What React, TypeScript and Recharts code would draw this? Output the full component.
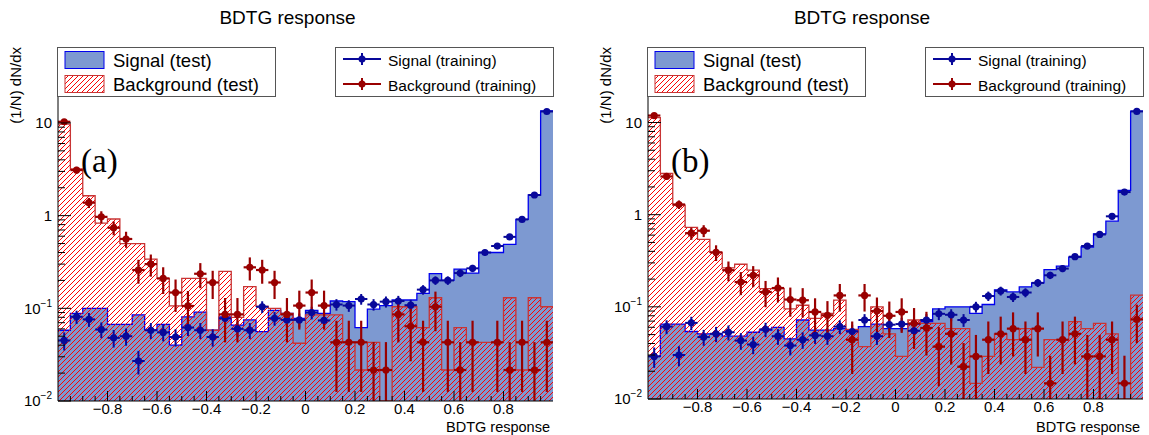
import React from "react";
import { Area, ComposedChart, ErrorBar, Label, Scatter, XAxis, YAxis } from "recharts";

const NBINS = 40;
const X_MIN = -1;
const X_MAX = 1;
const BIN_W = (X_MAX - X_MIN) / NBINS;
const Y_MIN = 0.01;
const Y_MAX = 66;

const xTickLabels = [-0.8, -0.6, -0.4, -0.2, 0, 0.2, 0.4, 0.6, 0.8];
const yTickLabels = [0.01, 0.1, 1, 10];

// (a) test histograms and training points, one value per bin from -1 to 1
const sigTestA = [
  0.058, 0.088, 0.1, 0.1, 0.067, 0.067, 0.085, 0.058, 0.067, 0.04,
  0.081, 0.091, 0.058, 0.081, 0.066, 0.075, 0.056, 0.095, 0.088, 0.078,
  0.095, 0.088, 0.12, 0.118, 0.062, 0.098, 0.107, 0.123, 0.123, 0.145,
  0.237, 0.2, 0.265, 0.24, 0.4, 0.4, 0.49, 0.91, 1.67, 13.5,
];
const bkgTestA = [
  9.7, 3.2, 1.64, 0.83, 0.92, 0.5, 0.5, 0.34, 0.21, 0.106,
  0.21, 0.21, 0.058, 0.25, 0.08, 0.171, 0.105, 0.1, 0.088, 0.042,
  0.085, 0.085, 0.085, 0.043, 0.0216, 0.043, 0, 0.104, 0.104, 0.062,
  0.13, 0.0216, 0.062, 0.043, 0.043, 0.043, 0.13, 0.0216, 0.13, 0.104,
];
const sigTrainA = [
  0.045, 0.081, 0.076, 0.059, 0.048, 0.05, 0.027, 0.058, 0.055, 0.049,
  0.062, 0.058, 0.049, 0.078, 0.06, 0.058, 0.104, 0.078, 0.075, 0.075,
  0.09, 0.074, 0.11, 0.107, 0.126, 0.11, 0.118, 0.12, 0.108, 0.159,
  0.2, 0.2, 0.24, 0.27, 0.4, 0.47, 0.59, 0.91, 1.67, 13.3,
];
const bkgTrainA = [
  10.3, 3.1, 1.38, 0.97, 0.74, 0.56, 0.259, 0.3, 0.21, 0.148,
  0.106, 0.236, 0.19, 0.086, 0.086, 0.277, 0.259, 0.19, 0.086, 0.107,
  0.148, 0.107, 0.043, 0.043, 0.043, 0.0216, 0.0216, 0.086, 0.064, 0.043,
  0.104, 0.043, 0.0216, 0.043, 0, 0.043, 0.0216, 0.043, 0.0216, 0.043,
];

// (b)
const sigTestB = [
  0.029, 0.065, 0.065, 0.054, 0.051, 0.051, 0.048, 0.048, 0.053, 0.056,
  0.06, 0.045, 0.072, 0.056, 0.056, 0.058, 0.056, 0.061, 0.065, 0.058,
  0.058, 0.065, 0.069, 0.095, 0.1, 0.1, 0.085, 0.106, 0.153, 0.145,
  0.165, 0.182, 0.254, 0.276, 0.347, 0.446, 0.62, 0.85, 1.84, 13.3,
];
const bkgTestB = [
  11.3, 2.8, 1.27, 0.73, 0.54, 0.39, 0.265, 0.29, 0.25, 0.158,
  0.158, 0.095, 0.104, 0.075, 0.085, 0.118, 0.057, 0.037, 0.1, 0.051,
  0.029, 0.072, 0.066, 0.066, 0.058, 0.058, 0.0148, 0.029, 0.051, 0.044,
  0.058, 0.022, 0.044, 0.044, 0.069, 0.058, 0.066, 0.051, 0, 0.134,
];
const sigTrainB = [
  0.029, 0.061, 0.03, 0.067, 0.047, 0.051, 0.053, 0.043, 0.039, 0.057,
  0.048, 0.038, 0.044, 0.049, 0.048, 0.061, 0.054, 0.072, 0.048, 0.064,
  0.065, 0.055, 0.072, 0.084, 0.082, 0.072, 0.1, 0.131, 0.149, 0.128,
  0.143, 0.182, 0.22, 0.26, 0.35, 0.457, 0.61, 0.96, 1.76, 13.2,
];
const bkgTrainB = [
  11.9, 2.6, 1.29, 0.63, 0.67, 0.39, 0.25, 0.186, 0.22, 0.145,
  0.16, 0.12, 0.118, 0.088, 0.081, 0.133, 0.044, 0.133, 0.09, 0.08,
  0.088, 0.066, 0.059, 0.037, 0.051, 0.0224, 0.029, 0.044, 0.051, 0.058,
  0.044, 0.058, 0.0148, 0.044, 0.051, 0.029, 0.029, 0.044, 0.0148, 0.073,
];

// per-event weights, used for the statistical error bars
const sigWeightA = 0.0022;
const bkgWeightA = 0.0216;
const sigWeightB = 0.0018;
const bkgWeightB = 0.0146;

const SIG_FILL = "#7d99d1";
const SIG_LINE = "#0000ee";
const SIG_MARK = "#08089a";
const BKG_LINE = "#c83434";
const BKG_HATCH = "#ff0000";
const BKG_MARK = "#990000";
const FONT = '"Liberation Sans", Arial, Helvetica, sans-serif';

const PLOT_TOP = 47;
const HEIGHT = 435;
const X_TICK_GAP = 2;
const Y_TICK_GAP = 6;
const HATCH = 5;

const xTicks = Array.from({ length: NBINS - 1 }, (_, i) => +(X_MIN + BIN_W * (i + 1)).toFixed(2));
const yTicks = [0.01, 0.1, 1, 10]
  .flatMap((d) => [1, 2, 3, 4, 5, 6, 7, 8, 9].map((k) => +(k * d).toPrecision(3)))
  .filter((v) => v <= Y_MAX);

function histRows(sig: number[], bkg: number[]) {
  return Array.from({ length: NBINS + 1 }, (_, i) => {
    const k = Math.min(i, NBINS - 1);
    return {
      x: +(X_MIN + i * BIN_W).toFixed(3),
      sig: Math.max(sig[k], Y_MIN),
      bkg: Math.max(bkg[k], Y_MIN),
    };
  });
}

function trainPoints(vals: number[], weight: number) {
  return vals.flatMap((v, i) => {
    if (v <= 0) return [];
    const err = Math.sqrt(v * weight);
    return [{
      x: X_MIN + (i + 0.5) * BIN_W,
      y: v,
      ex: BIN_W / 2,
      ey: [Math.min(err, v - Y_MIN), err],
    }];
  });
}

function fmtX(v: number) {
  if (Math.abs(v) < 1e-9) return "0";
  return (v < 0 ? "\u2212" : "") + Math.abs(v).toFixed(1);
}

function XTick(props: any) {
  const { x, y, payload } = props;
  const v = payload.value;
  const major = xTickLabels.some((l) => Math.abs(l - v) < 1e-6);
  const y0 = y - X_TICK_GAP;
  return (
    <g>
      <line x1={x} x2={x} y1={y0} y2={y0 - (major ? 10 : 5)} stroke="#000" />
      {major && (
        <text x={x} y={y} dy="0.75em" textAnchor="middle" fontSize={15} fontFamily={FONT} fill="#000">
          {fmtX(v)}
        </text>
      )}
    </g>
  );
}

function YTick(props: any) {
  const { x, y, payload } = props;
  const v = payload.value;
  const major = yTickLabels.some((l) => Math.abs(l - v) < 1e-9);
  const x0 = x + Y_TICK_GAP;
  const exp = Math.round(Math.log10(v));
  return (
    <g>
      <line x1={x0} x2={x0 + (major ? 13 : 7)} y1={y} y2={y} stroke="#000" />
      {major && (
        <text x={x} y={y} textAnchor="end" fontSize={15} fontFamily={FONT} fill="#000">
          {exp < 0 ? (
            <>
              <tspan dy="0.36em">10</tspan>
              <tspan dy="-0.7em" fontSize={10}>{"\u2212" + -exp}</tspan>
            </>
          ) : (
            <tspan dy="0.36em">{String(v)}</tspan>
          )}
        </text>
      )}
    </g>
  );
}

function YTitle(props: any) {
  const { x, y, width } = props.viewBox;
  const cx = x + width - 43;
  return (
    <text
      transform={`translate(${cx},${y}) rotate(-90)`}
      textAnchor="end"
      dominantBaseline="central"
      fontSize={15}
      fontFamily={FONT}
      fill="#000"
    >
      (1/N) dN/dx
    </text>
  );
}

function TestLegend() {
  return (
    <svg width={220} height={51} style={{ display: "block" }}>
      <rect x={0.5} y={0.5} width={218} height={49} fill="#fff" stroke="#555" />
      <rect x={8} y={4.5} width={39} height={17} fill={SIG_FILL} stroke={SIG_LINE} />
      <text x={56} y={13} dominantBaseline="central" fontSize={18.5} fontFamily={FONT}>
        Signal (test)
      </text>
      <rect x={8} y={28.5} width={39} height={17} fill="url(#bkgHatch)" stroke={BKG_LINE} />
      <text x={56} y={37} dominantBaseline="central" fontSize={18.5} fontFamily={FONT}>
        Background (test)
      </text>
    </svg>
  );
}

function TrainLegend() {
  const entry = (cy: number, color: string, label: string) => (
    <g>
      <line x1={8} x2={46} y1={cy} y2={cy} stroke={color} strokeWidth={2} />
      <line x1={27} x2={27} y1={cy - 6} y2={cy + 6} stroke={color} strokeWidth={2} />
      <circle cx={27} cy={cy} r={3.5} fill={color} />
      <text x={53} y={cy + 1} dominantBaseline="central" fontSize={15.5} fontFamily={FONT}>
        {label}
      </text>
    </g>
  );
  return (
    <svg width={220} height={51} style={{ display: "block" }}>
      <rect x={0.5} y={0.5} width={218} height={49} fill="#fff" stroke="#555" />
      {entry(12, SIG_MARK, "Signal (training)")}
      {entry(37, BKG_MARK, "Background (training)")}
    </svg>
  );
}

interface PanelProps {
  tag: string;
  width: number;
  axisWidth: number;
  rightGap: number;
  axisHeight: number;
  sigTest: number[];
  bkgTest: number[];
  sigTrain: number[];
  bkgTrain: number[];
  sigWeight: number;
  bkgWeight: number;
}

function Panel(p: PanelProps) {
  const rows = histRows(p.sigTest, p.bkgTest);
  const sigPts = trainPoints(p.sigTrain, p.sigWeight);
  const bkgPts = trainPoints(p.bkgTrain, p.bkgWeight);
  const marker = (color: string) => (s: any) => <circle cx={s.cx} cy={s.cy} r={3.6} fill={color} />;

  return (
    <div style={{ position: "relative", width: p.width, height: HEIGHT }}>
      <div
        style={{
          position: "absolute",
          top: 8,
          left: 0,
          width: p.width,
          textAlign: "center",
          fontSize: 19,
          lineHeight: "20px",
        }}
      >
        BDTG response
      </div>
      <ComposedChart
        width={p.width}
        height={HEIGHT}
        data={rows}
        margin={{ top: PLOT_TOP, right: p.rightGap, bottom: 0, left: 0 }}
      >
        <XAxis
          dataKey="x"
          type="number"
          domain={[X_MIN, X_MAX]}
          ticks={xTicks}
          interval={0}
          tick={(t: any) => <XTick {...t} />}
          tickLine={false}
          tickSize={0}
          tickMargin={X_TICK_GAP}
          height={p.axisHeight}
          axisLine={{ stroke: "#000" }}
          allowDataOverflow
        >
          <Label value="BDTG response" position="insideBottomRight" offset={3} fontSize={14.5} fontFamily={FONT} fill="#000" />
        </XAxis>
        <XAxis
          xAxisId="top"
          dataKey="x"
          orientation="top"
          type="number"
          domain={[X_MIN, X_MAX]}
          height={0}
          tick={false}
          tickLine={false}
          axisLine={{ stroke: "#000" }}
        />
        <YAxis
          type="number"
          scale="log"
          domain={[Y_MIN, Y_MAX]}
          ticks={yTicks}
          interval={0}
          tick={(t: any) => <YTick {...t} />}
          tickLine={false}
          tickSize={0}
          tickMargin={Y_TICK_GAP}
          width={p.axisWidth}
          axisLine={{ stroke: "#000" }}
          allowDataOverflow
        >
          <Label content={YTitle} />
        </YAxis>
        <YAxis
          yAxisId="right"
          orientation="right"
          type="number"
          scale="log"
          domain={[Y_MIN, Y_MAX]}
          width={0}
          tick={false}
          tickLine={false}
          axisLine={{ stroke: "#000" }}
          allowDataOverflow
        />
        <Area
          type="stepAfter"
          dataKey="sig"
          fill={SIG_FILL}
          fillOpacity={1}
          stroke={SIG_LINE}
          strokeWidth={1.3}
          dot={false}
          activeDot={false}
          isAnimationActive={false}
        />
        <Area
          type="stepAfter"
          dataKey="bkg"
          fill="url(#bkgHatch)"
          fillOpacity={1}
          stroke={BKG_LINE}
          strokeWidth={1.3}
          dot={false}
          activeDot={false}
          isAnimationActive={false}
        />
        <Scatter data={sigPts} dataKey="y" shape={marker(SIG_MARK)} isAnimationActive={false}>
          <ErrorBar dataKey="ey" direction="y" width={0} stroke={SIG_MARK} strokeWidth={2} />
          <ErrorBar dataKey="ex" direction="x" width={0} stroke={SIG_MARK} strokeWidth={2} />
        </Scatter>
        <Scatter data={bkgPts} dataKey="y" shape={marker(BKG_MARK)} isAnimationActive={false}>
          <ErrorBar dataKey="ey" direction="y" width={0} stroke={BKG_MARK} strokeWidth={2.2} />
          <ErrorBar dataKey="ex" direction="x" width={0} stroke={BKG_MARK} strokeWidth={2.2} />
        </Scatter>
      </ComposedChart>
      <div style={{ position: "absolute", left: p.axisWidth - 1, top: PLOT_TOP }}>
        <TestLegend />
      </div>
      <div style={{ position: "absolute", left: p.axisWidth + 277, top: PLOT_TOP }}>
        <TrainLegend />
      </div>
      <div
        style={{
          position: "absolute",
          left: p.axisWidth + 23,
          top: 145,
          fontFamily: '"Liberation Serif", "Times New Roman", serif',
          fontSize: 33,
          lineHeight: 1,
        }}
      >
        {p.tag}
      </div>
    </div>
  );
}

export default function App() {
  return (
    <div
      style={{
        position: "absolute",
        left: 0,
        top: 0,
        width: 1149,
        height: HEIGHT,
        background: "#fff",
        display: "flex",
        fontFamily: FONT,
        color: "#000",
      }}
    >
      <svg width={0} height={0} style={{ position: "absolute" }}>
        <defs>
          {/* single-direction "/" hatching for the background histogram */}
          <pattern id="bkgHatch" patternUnits="userSpaceOnUse" width={HATCH} height={HATCH}>
            <path
              d={`M0,${HATCH} L${HATCH},0 M-1,1 L1,-1 M${HATCH - 1},${HATCH + 1} L${HATCH + 1},${HATCH - 1}`}
              stroke={BKG_HATCH}
              strokeWidth={1}
            />
          </pattern>
        </defs>
      </svg>
      <Panel
        tag="(a)"
        width={575}
        axisWidth={58}
        rightGap={22}
        axisHeight={34}
        sigTest={sigTestA}
        bkgTest={bkgTestA}
        sigTrain={sigTrainA}
        bkgTrain={bkgTrainA}
        sigWeight={sigWeightA}
        bkgWeight={bkgWeightA}
      />
      <Panel
        tag="(b)"
        width={574}
        axisWidth={73}
        rightGap={6}
        axisHeight={36}
        sigTest={sigTestB}
        bkgTest={bkgTestB}
        sigTrain={sigTrainB}
        bkgTrain={bkgTrainB}
        sigWeight={sigWeightB}
        bkgWeight={bkgWeightB}
      />
    </div>
  );
}
